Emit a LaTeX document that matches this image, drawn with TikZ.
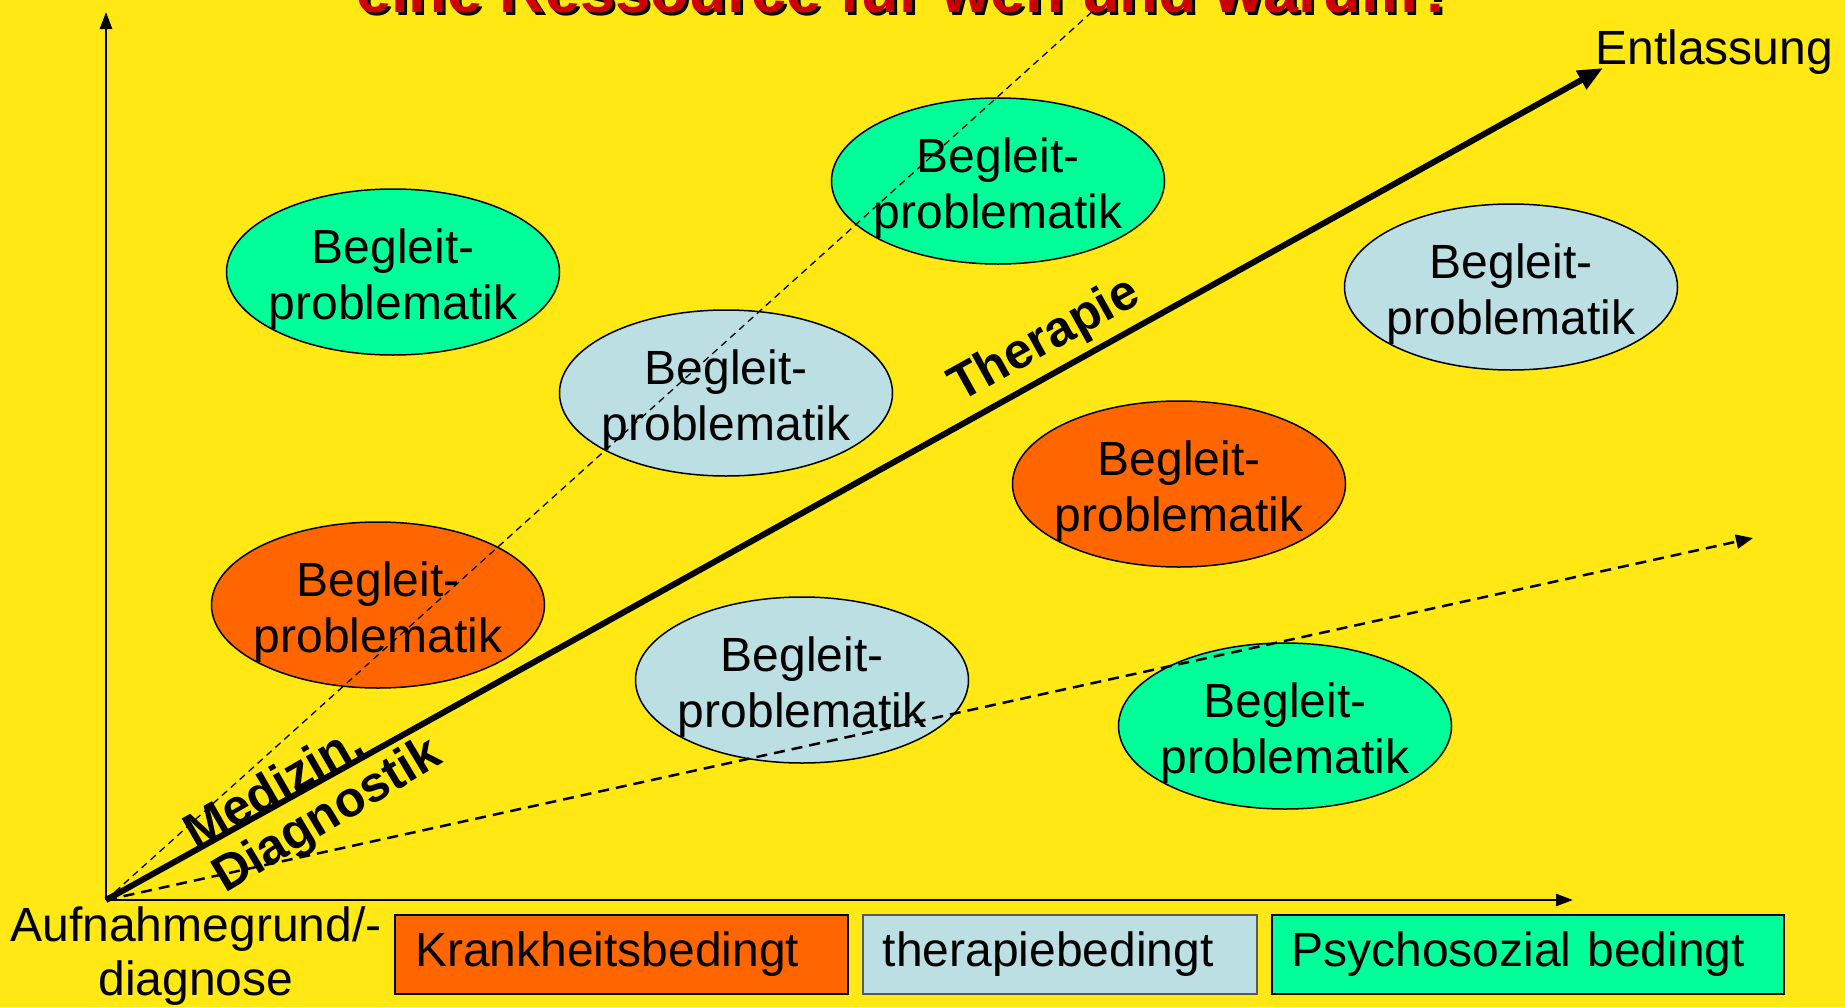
\documentclass[tikz,border=0pt]{standalone}
\usepackage{fontspec}
\setmainfont{Liberation Sans}
\usetikzlibrary{shapes.geometric,positioning,arrows.meta}
\definecolor{slideyellow}{RGB}{255,232,20}
\definecolor{krank}{RGB}{255,102,0}
\definecolor{therapie}{RGB}{187,223,227}
\definecolor{psycho}{RGB}{0,255,153}
\definecolor{titlered}{RGB}{204,0,0}

\begin{document}
\begin{tikzpicture}[x=1pt,y=-1pt]
% STYLES
\tikzset{%
    blob/.style={%
        ellipse,draw=black,line width=1.5pt,minimum width=333pt,minimum height=166pt,
        inner xsep=-30pt,inner ysep=-40pt,align=center,text height=128pt,text depth=34pt,
        font=\fontsize{48}{56}\selectfont
    },
    legend/.style={%
        rectangle,draw=black,line width=2pt,minimum height=79pt,inner xsep=20pt,
        inner ysep=0pt,align=left,anchor=west,font=\fontsize{48}{56}\selectfont
    },
    axis/.style={line width=2.5pt,-{Triangle[length=17pt,width=12pt]}},
    mainpath/.style={line width=6pt,-{Triangle[length=25pt,width=20pt]}},
    steepdash/.style={line width=1.3pt,dash pattern=on 7pt off 5pt},
    flatdash/.style={line width=2.5pt,dash pattern=on 11pt off 7pt,-{Triangle[length=17pt,width=14pt]}},
    pathlabel/.style={font=\bfseries\fontsize{50}{60}\selectfont},
    titletext/.style={anchor=base,font=\bfseries\fontsize{63}{70}\selectfont}
}
\useasboundingbox (0,0) rectangle (1845,1007);
\clip (0,0) rectangle (1845,1007);
\fill[slideyellow] (0,0) rectangle (1845,1007);
% Axes and paths
\coordinate (origin) at (106,900);
\coordinate (yend) at (106,12);
\coordinate (xend) at (1573,900);
\coordinate (discharge) at (1603,68);
\coordinate (steepend) at (1094,10);
\coordinate (flatend) at (1753,538);
% Draw problems
\node[blob,fill=psycho] (psychoA) at (393,272) {Begleit-\\problematik};
\node[blob,fill=psycho] (psychoB) at (998,181) {Begleit-\\problematik};
\node[blob,fill=therapie] (therapieA) at (726,393) {Begleit-\\problematik};
\node[blob,fill=therapie] (therapieB) at (1511,287) {Begleit-\\problematik};
\node[blob,fill=krank] (krankA) at (1179,484) {Begleit-\\problematik};
\node[blob,fill=krank] (krankB) at (378,605) {Begleit-\\problematik};
\node[blob,fill=therapie] (therapieC) at (802,680) {Begleit-\\problematik};
\node[blob,fill=psycho] (psychoC) at (1285,726) {Begleit-\\problematik};
% Draw the axes and the course
\draw[axis] (origin) -- (yend);
\draw[axis] (origin) -- (xend);
\draw[mainpath] (origin) -- (discharge);
\draw[steepdash] (origin) -- (steepend);
\draw[flatdash] (origin) -- (flatend);
% Labels
\node[pathlabel,rotate=29] (therapielabel) at (1045,341) {Therapie};
\node[pathlabel,rotate=30] (medizinlabel) at (273,786) {Medizin.};
\node[pathlabel,rotate=31] (diagnostiklabel) at (328,817) {Diagnostik};
\node[anchor=base west,font=\fontsize{48}{56}\selectfont] (entlassung) at (1592,64) {Entlassung};
\node[align=center,font=\fontsize{48}{54}\selectfont] (admission) at (196,956) {Aufnahmegrund/-\\diagnose};
% Legend
\node[legend,fill=krank,text width=413pt] (krankbox) at (394,954.5) {Krankheitsbedingt};
\node[legend,fill=therapie,draw=black!65,line width=1.5pt,text width=354pt,right=13pt of krankbox] (therapiebox) {therapiebedingt};
\node[legend,fill=psycho,text width=472pt,right=13pt of therapiebox] (psychobox) {Psychosozial bedingt};
% Title
\node[titletext,text=black] (titleshadow) at (909,15) {eine Ressource für wen und warum?};
\node[titletext,text=titlered] (titlemain) at (906,12) {eine Ressource für wen und warum?};
\end{tikzpicture}
\end{document}
